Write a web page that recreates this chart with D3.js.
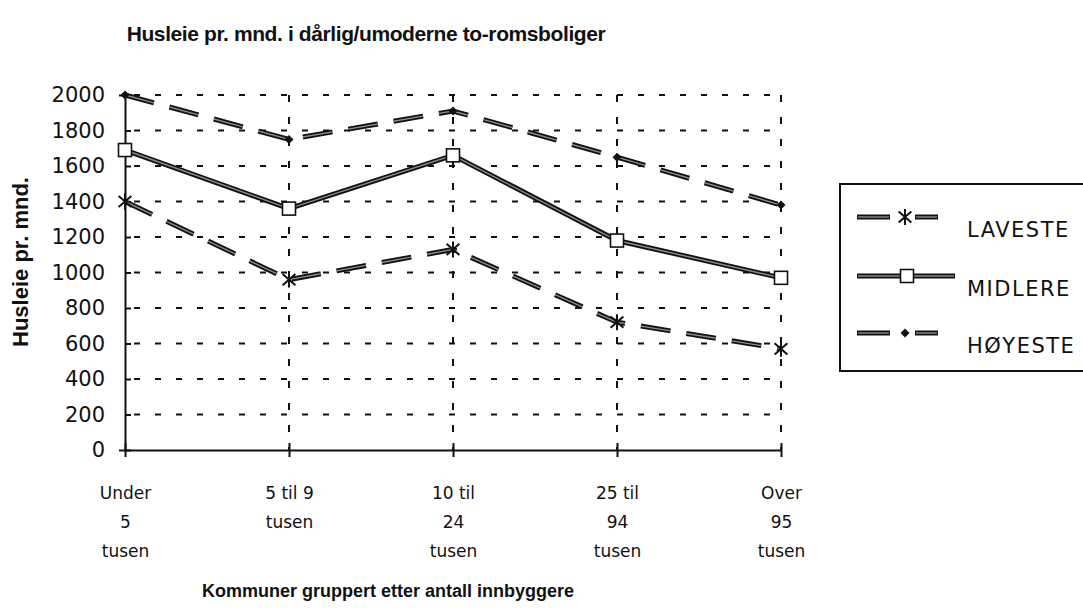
<!DOCTYPE html>
<html>
<head>
<meta charset="utf-8">
<script src="https://cdn.jsdelivr.net/npm/d3@7"></script>
<style>
    body { margin: 0; background: #fff; }
    svg { display: block; }
    .lbl { font-family: "DejaVu Sans", sans-serif; fill: #111; }
    .ttl { font-family: "Liberation Sans", sans-serif; font-weight: bold; fill: #111; }
</style>
</head>
<body>
<div id="chart"></div>
<script>
var categories = ["Under 5 tusen", "5 til 9 tusen", "10 til 24 tusen", "25 til 94 tusen", "Over 95 tusen"];
var tickLines = [["Under", "5", "tusen"], ["5 til 9", "tusen"], ["10 til", "24", "tusen"], ["25 til", "94", "tusen"], ["Over", "95", "tusen"]];
var laveste = [1400, 960, 1130, 720, 570];
var midlere = [1690, 1360, 1660, 1180, 970];
var hoyeste = [2000, 1750, 1910, 1650, 1380];
var seriesNames = ["LAVESTE", "MIDLERE", "HØYESTE"];
var yTicks = [0, 200, 400, 600, 800, 1000, 1200, 1400, 1600, 1800, 2000];

var width = 1083, height = 615;

var svg = d3.select("#chart").append("svg")
    .attr("width", width)
    .attr("height", height);

var x = d3.scalePoint()
    .domain(categories)
    .range([125, 781]);

var y = d3.scaleLinear()
    .domain([0, 2000])
    .range([450, 95]);

// grid
svg.append("g").selectAll("line.h")
    .data(yTicks.filter(function (d) { return d > 0; }))
    .enter().append("line")
    .attr("x1", 134).attr("x2", 781)
    .attr("y1", function (d) { return y(d); })
    .attr("y2", function (d) { return y(d); })
    .attr("stroke", "#111").attr("stroke-width", 2)
    .attr("stroke-dasharray", "6,15");

svg.append("g").selectAll("line.v")
    .data(categories.slice(1))
    .enter().append("line")
    .attr("x1", function (d) { return x(d); })
    .attr("x2", function (d) { return x(d); })
    .attr("y1", y(2000)).attr("y2", y(0))
    .attr("stroke", "#111").attr("stroke-width", 2)
    .attr("stroke-dasharray", "7,15");

// axes
var yAxis = d3.axisLeft(y).tickValues(yTicks).tickFormat(d3.format("d")).tickSize(6).tickPadding(14);
var gy = svg.append("g")
    .attr("transform", "translate(" + x(categories[0]) + ",0)")
    .call(yAxis);
gy.select(".domain").attr("stroke", "#111").attr("stroke-width", 2);
gy.selectAll(".tick line").attr("x2", 6).attr("stroke", "#111").attr("stroke-width", 2);
gy.selectAll(".tick text").attr("class", "lbl").style("font-size", "21px").attr("font-family", null);

var xAxis = d3.axisBottom(x).tickSize(7).tickSizeOuter(0).tickFormat("");
var gx = svg.append("g")
    .attr("transform", "translate(0," + y(0) + ")")
    .call(xAxis);
gx.select(".domain").attr("stroke", "#111").attr("stroke-width", 2);
gx.selectAll(".tick line").attr("y1", -7).attr("stroke", "#111").attr("stroke-width", 2);

gx.selectAll(".tick").each(function (d, i) {
    var t = d3.select(this).append("text")
        .attr("class", "lbl")
        .attr("text-anchor", "middle")
        .style("font-size", "17px");
    tickLines[i].forEach(function (s, j) {
        t.append("tspan").attr("x", 0).attr("y", 49 + j * 29).text(s);
    });
});

// series
function asterisk(g, size) {
    g.append("path")
        .attr("d", "M0," + (-size) + "V" + size + "M" + (-size * 0.8) + "," + (-size * 0.7) + "L" + (size * 0.8) + "," + (size * 0.7) + "M" + (-size * 0.8) + "," + (size * 0.7) + "L" + (size * 0.8) + "," + (-size * 0.7))
        .attr("fill", "none").attr("stroke", "#111").attr("stroke-width", 2);
}
function square(g, size) {
    g.append("rect")
        .attr("x", -size).attr("y", -size)
        .attr("width", size * 2).attr("height", size * 2)
        .attr("fill", "#fff").attr("stroke", "#111").attr("stroke-width", 1.6);
}
function diamond(g, size) {
    g.append("path")
        .attr("d", "M0," + (-size) + "L" + size + ",0L0," + size + "L" + (-size) + ",0Z")
        .attr("fill", "#111");
}

var series = [
    { name: seriesNames[0], values: laveste, dash: "30,16", marker: asterisk, msize: 8 },
    { name: seriesNames[1], values: midlere, dash: null, marker: square, msize: 6.5 },
    { name: seriesNames[2], values: hoyeste, dash: "30,16", marker: diamond, msize: 4.5 }
];

var line = d3.line()
    .x(function (d, i) { return x(categories[i]); })
    .y(function (d) { return y(d); });

series.forEach(function (s) {
    var g = svg.append("g");
    g.append("path").attr("d", line(s.values))
        .attr("fill", "none").attr("stroke", "#111").attr("stroke-width", 5)
        .attr("stroke-dasharray", s.dash);
    g.append("path").attr("d", line(s.values))
        .attr("fill", "none").attr("stroke", "#8a8a8a").attr("stroke-width", 1.4)
        .attr("stroke-dasharray", s.dash);
    s.values.forEach(function (v, i) {
        var m = g.append("g").attr("transform", "translate(" + x(categories[i]) + "," + y(v) + ")");
        s.marker(m, s.msize);
    });
});

// legend
var legend = svg.append("g").attr("transform", "translate(840,184)");
legend.append("rect")
    .attr("width", 260).attr("height", 187)
    .attr("fill", "#fff").attr("stroke", "#111").attr("stroke-width", 2);

var rowY = [33, 92, 149];
series.forEach(function (s, i) {
    var r = legend.append("g").attr("transform", "translate(0," + rowY[i] + ")");
    var segs = s.dash ? [[17, 50], [75, 98]] : [[17, 115]];
    segs.forEach(function (sg) {
        r.append("line").attr("x1", sg[0]).attr("x2", sg[1])
            .attr("stroke", "#111").attr("stroke-width", 5);
        r.append("line").attr("x1", sg[0] + 1).attr("x2", sg[1] - 1)
            .attr("stroke", "#8a8a8a").attr("stroke-width", 1.4);
    });
    var m = r.append("g").attr("transform", "translate(" + (s.dash ? 65 : 67) + ",0)");
    s.marker(m, s.msize);
    r.append("text")
        .attr("class", "lbl")
        .attr("x", 127).attr("y", 20)
        .style("font-size", "21px")
        .style("letter-spacing", "1.5px")
        .text(s.name);
});

// titles
svg.append("text")
    .attr("class", "ttl")
    .attr("x", 366).attr("y", 41)
    .attr("text-anchor", "middle")
    .style("font-size", "21px")
    .style("letter-spacing", "-0.4px")
    .text("Husleie pr. mnd. i dårlig/umoderne to-romsboliger");

svg.append("text")
    .attr("class", "ttl")
    .attr("transform", "translate(28,262) rotate(-90)")
    .attr("text-anchor", "middle")
    .style("font-size", "22px")
    .text("Husleie pr. mnd.");

svg.append("text")
    .attr("class", "ttl")
    .attr("x", 388).attr("y", 597)
    .attr("text-anchor", "middle")
    .style("font-size", "18px")
    .text("Kommuner gruppert etter antall innbyggere");
</script>
</body>
</html>
